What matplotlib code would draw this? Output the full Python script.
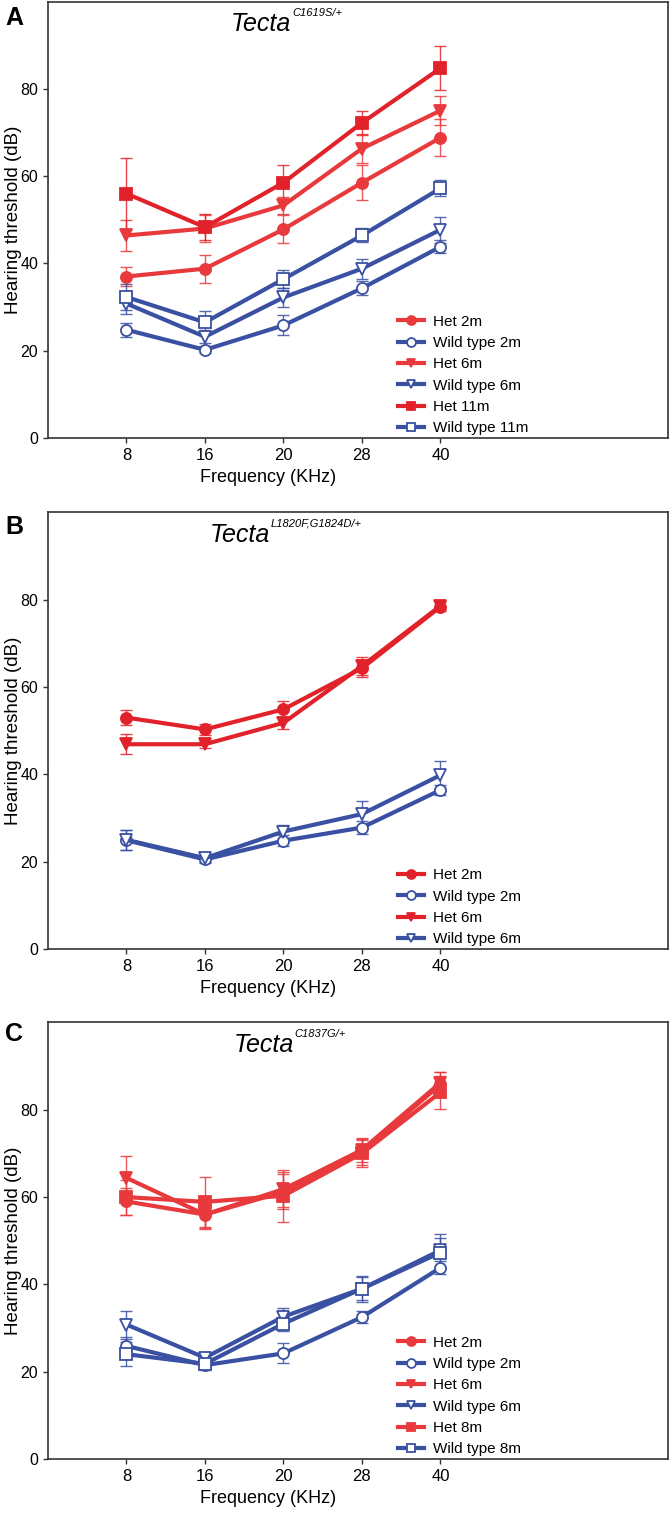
import numpy as np
from matplotlib import pyplot as plt
from matplotlib import font_manager

FREQ_LABELS = ['8', '16', '20', '28', '40']

# panel A: Tecta C1619S/+
A_HET_2M = [37.0, 38.8, 47.8, 58.5, 68.8]
A_HET_2M_ERR = [2.2, 3.2, 3.2, 4.0, 4.3]
A_WT_2M = [24.8, 20.2, 25.8, 34.3, 43.8]
A_WT_2M_ERR = [1.6, 0.8, 2.3, 1.6, 1.5]
A_HET_6M = [46.4, 48.0, 53.3, 66.3, 75.0]
A_HET_6M_ERR = [3.5, 3.0, 2.0, 3.3, 3.4]
A_WT_6M = [30.8, 23.2, 32.2, 38.8, 47.7]
A_WT_6M_ERR = [2.5, 1.5, 2.2, 2.3, 3.0]
A_HET_11M = [56.0, 48.3, 58.5, 72.2, 84.7]
A_HET_11M_ERR = [8.2, 3.0, 4.0, 2.8, 5.0]
A_WT_11M = [32.3, 26.5, 36.4, 46.4, 57.2]
A_WT_11M_ERR = [3.0, 2.6, 2.0, 1.6, 1.8]

# panel B: Tecta L1820F,G1824D/+
B_HET_2M = [53.0, 50.3, 54.9, 64.3, 78.4]
B_HET_2M_ERR = [1.8, 1.2, 1.8, 2.0, 1.0]
B_WT_2M = [24.9, 20.5, 24.8, 27.8, 36.4]
B_WT_2M_ERR = [2.3, 0.8, 1.3, 1.5, 1.2]
B_HET_6M = [46.9, 46.9, 51.8, 64.8, 78.6]
B_HET_6M_ERR = [2.3, 0.8, 1.3, 2.0, 1.0]
B_WT_6M = [25.0, 20.8, 26.9, 30.9, 39.8]
B_WT_6M_ERR = [2.3, 0.8, 1.6, 3.0, 3.2]

# panel C: Tecta C1837G/+
C_HET_2M = [59.0, 56.0, 61.2, 70.3, 85.8]
C_HET_2M_ERR = [3.0, 3.0, 4.0, 3.0, 2.8]
C_WT_2M = [25.9, 21.5, 24.2, 32.5, 43.8]
C_WT_2M_ERR = [2.0, 1.0, 2.3, 1.3, 1.5]
C_HET_6M = [64.4, 56.0, 61.8, 70.8, 86.2]
C_HET_6M_ERR = [5.0, 3.3, 4.0, 2.8, 2.5]
C_WT_6M = [30.8, 23.2, 32.6, 39.0, 47.8]
C_WT_6M_ERR = [3.2, 1.2, 1.9, 3.0, 3.8]
C_HET_8M = [60.0, 58.9, 60.3, 70.0, 84.0]
C_HET_8M_ERR = [4.0, 5.7, 6.0, 3.0, 3.8]
C_WT_8M = [24.0, 21.8, 31.0, 39.0, 47.3]
C_WT_8M_ERR = [2.8, 1.0, 1.6, 2.6, 3.3]

RED = '#e8393d'
RED_DARK = '#e2222a'
BLUE = '#3a50a2'

_names = {f.name for f in font_manager.fontManager.ttflist}
NARROW = 'Liberation Sans Narrow' if 'Liberation Sans Narrow' in _names else 'Liberation Sans'
plt.rcParams['font.family'] = [NARROW, 'DejaVu Sans']

PANELS = [
    {
        'letter': 'A', 'sup': 'C1619S/+',
        'series': [
            ('Het 2m', A_HET_2M, A_HET_2M_ERR, RED, 'o', True),
            ('Wild type 2m', A_WT_2M, A_WT_2M_ERR, BLUE, 'o', False),
            ('Het 6m', A_HET_6M, A_HET_6M_ERR, RED, 'v', True),
            ('Wild type 6m', A_WT_6M, A_WT_6M_ERR, BLUE, 'v', False),
            ('Het 11m', A_HET_11M, A_HET_11M_ERR, RED_DARK, 's', True),
            ('Wild type 11m', A_WT_11M, A_WT_11M_ERR, BLUE, 's', False),
        ],
    },
    {
        'letter': 'B', 'sup': 'L1820F,G1824D/+',
        'series': [
            ('Het 2m', B_HET_2M, B_HET_2M_ERR, RED_DARK, 'o', True),
            ('Wild type 2m', B_WT_2M, B_WT_2M_ERR, BLUE, 'o', False),
            ('Het 6m', B_HET_6M, B_HET_6M_ERR, RED_DARK, 'v', True),
            ('Wild type 6m', B_WT_6M, B_WT_6M_ERR, BLUE, 'v', False),
        ],
    },
    {
        'letter': 'C', 'sup': 'C1837G/+',
        'series': [
            ('Het 2m', C_HET_2M, C_HET_2M_ERR, RED, 'o', True),
            ('Wild type 2m', C_WT_2M, C_WT_2M_ERR, BLUE, 'o', False),
            ('Het 6m', C_HET_6M, C_HET_6M_ERR, RED, 'v', True),
            ('Wild type 6m', C_WT_6M, C_WT_6M_ERR, BLUE, 'v', False),
            ('Het 8m', C_HET_8M, C_HET_8M_ERR, RED, 's', True),
            ('Wild type 8m', C_WT_8M, C_WT_8M_ERR, BLUE, 's', False),
        ],
    },
]

# layout (figure fractions, pixel-matched to the reference)
AX_BOTTOMS = [0.7105, 0.3728, 0.0357]
AX_LEFT, AX_W, AX_H = 0.0716, 0.9254, 0.2885
TITLE_X = [3.10, 2.83, 3.13]
LETTER_Y = [1 - 6 / 1513, 1 - 515 / 1513, 1 - 1022 / 1513]

fig = plt.figure(figsize=(6.7, 15.13), dpi=100)
x = np.arange(1, len(FREQ_LABELS) + 1)

for i, panel in enumerate(PANELS):
    ax = fig.add_axes([AX_LEFT, AX_BOTTOMS[i], AX_W, AX_H])
    for label, vals, err, color, marker, filled in panel['series']:
        ax.errorbar(x, vals, yerr=err, fmt='none', ecolor=color, elinewidth=1.0,
                    capsize=4.5, capthick=1.0, alpha=0.85, zorder=2)
        ax.plot(x, vals, color=color, lw=3.0, marker=marker, markersize=8,
                markerfacecolor=color if filled else 'white',
                markeredgecolor=color, markeredgewidth=1.3, label=label, zorder=3)

    ax.set_xlim(0, 7.9)
    ax.set_ylim(0, 100)
    ax.set_xticks(x)
    ax.set_xticklabels(FREQ_LABELS)
    ax.set_yticks([0, 20, 40, 60, 80])
    ax.tick_params(direction='out', length=3.5, width=1.0, color='#333333',
                   labelsize=12, pad=4)
    ax.tick_params(axis='y', labelsize=11.5, pad=3.5)
    for sp in ax.spines.values():
        sp.set_color('#333333')
        sp.set_linewidth(1.2)

    ax.set_xlabel('Frequency (KHz)', fontsize=13)
    ax.xaxis.set_label_coords(0.355, -0.072)
    ax.set_ylabel('Hearing threshold (dB)', fontsize=13.5, family='Liberation Sans')
    ax.yaxis.set_label_coords(-0.0425, 0.5)

    ax.text(TITLE_X[i], 0.933, 'Tecta', transform=ax.get_xaxis_transform(),
            ha='right', va='baseline', fontsize=18, style='italic',
            family='Liberation Sans')
    ax.text(TITLE_X[i] + 0.01, 0.967, panel['sup'], transform=ax.get_xaxis_transform(),
            ha='left', va='baseline', fontsize=8, style='italic',
            family='Liberation Sans')

    fig.text(0.008, LETTER_Y[i], panel['letter'], ha='left', va='top',
             fontsize=18, fontweight='bold', family='Liberation Sans')

    ax.legend(loc='lower left', bbox_to_anchor=(0.545, -0.022), frameon=False,
              fontsize=11, handlelength=1.7, handletextpad=0.6,
              labelspacing=0.48, markerscale=0.8, borderpad=0.3)

fig.savefig('out.png', dpi=100)
